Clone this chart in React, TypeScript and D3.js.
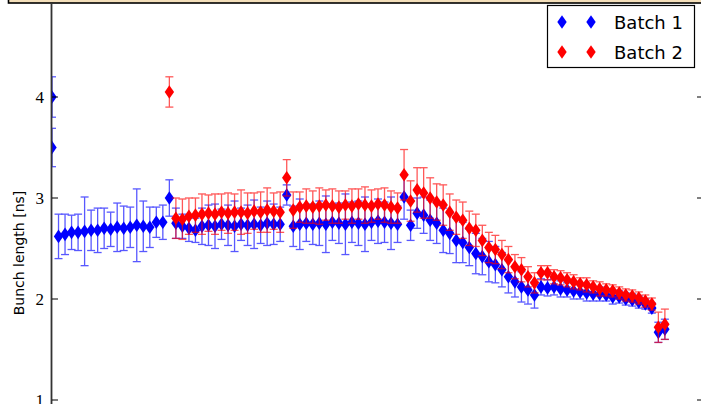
import React, { useRef, useEffect } from 'react'
import { select, scaleLinear, range } from 'd3'

// bunch slot index -> bunch length [ns], with error
const yTicks = [1, 2, 3, 4]
const seriesNames = ['Batch 1', 'Batch 2']

const batch1Slots = [0, ...range(0, 95)]
const batch1Length = [
  4.0, 3.5,
  2.62, 2.64, 2.66, 2.66, 2.67, 2.68, 2.68, 2.70, 2.69, 2.71, 2.70, 2.71, 2.73, 2.72, 2.71, 2.76, 2.76,
  3.00,
  2.75, 2.72, 2.70, 2.68, 2.72, 2.73, 2.72, 2.74, 2.73, 2.72, 2.74, 2.73, 2.74, 2.73, 2.75, 2.74, 2.74,
  3.03,
  2.72, 2.74, 2.75, 2.74, 2.75, 2.74, 2.76, 2.75, 2.74, 2.76, 2.75, 2.74, 2.76, 2.77, 2.76, 2.75, 2.74,
  3.01,
  2.73, 2.85, 2.83, 2.78, 2.75, 2.68, 2.65, 2.58, 2.56, 2.51, 2.45, 2.42, 2.37, 2.34, 2.29, 2.22, 2.17, 2.12, 2.09, 2.04,
  2.12, 2.11, 2.12, 2.10, 2.09, 2.08, 2.07, 2.06, 2.05, 2.05, 2.04, 2.02, 2.02, 2.00, 1.99, 1.97, 1.95, 1.91, 1.67, 1.70
]
const batch1Err = [
  0.2, 0.19,
  0.22, 0.2, 0.17, 0.18, 0.34, 0.2, 0.22, 0.2, 0.17, 0.24, 0.22, 0.2, 0.36, 0.25, 0.2, 0.15, 0.17,
  0.18,
  0.15, 0.12, 0.13, 0.12, 0.18, 0.2, 0.22, 0.15, 0.2, 0.25, 0.16, 0.2, 0.24, 0.18, 0.22, 0.2, 0.17,
  0.1,
  0.2, 0.25, 0.18, 0.2, 0.22, 0.28, 0.18, 0.2, 0.3, 0.2, 0.22, 0.27, 0.18, 0.22, 0.2, 0.26, 0.18,
  0.22,
  0.15, 0.15, 0.18, 0.2, 0.2, 0.22, 0.2, 0.22, 0.2, 0.18, 0.2, 0.18, 0.2, 0.18, 0.17, 0.16, 0.15, 0.15, 0.14, 0.13,
  0.08, 0.08, 0.08, 0.08, 0.07, 0.08, 0.07, 0.08, 0.07, 0.07, 0.06, 0.07, 0.06, 0.06, 0.06, 0.06, 0.05, 0.05, 0.1, 0.1
]

const batch2Slots = range(18, 95)
const batch2Length = [
  4.05,
  2.80, 2.79, 2.82, 2.83, 2.84, 2.85, 2.84, 2.86, 2.85, 2.86, 2.86, 2.85, 2.87, 2.86, 2.88, 2.87, 2.86,
  3.20,
  2.88, 2.91, 2.92, 2.91, 2.92, 2.93, 2.92, 2.91, 2.93, 2.92, 2.94, 2.93, 2.92, 2.94, 2.93, 2.91, 2.90,
  3.23,
  2.97, 3.08, 3.05, 3.00, 2.96, 2.93, 2.86, 2.81, 2.78, 2.70, 2.68, 2.58, 2.51, 2.49, 2.44, 2.39, 2.32, 2.29, 2.22, 2.16,
  2.26, 2.26, 2.22, 2.21, 2.19, 2.17, 2.15, 2.14, 2.12, 2.10, 2.09, 2.08, 2.06, 2.04, 2.03, 2.01, 1.98, 1.95, 1.72, 1.75
]
const batch2Err = [
  0.15,
  0.2, 0.2, 0.18, 0.17, 0.2, 0.18, 0.2, 0.18, 0.2, 0.18, 0.22, 0.2, 0.18, 0.2, 0.22, 0.18, 0.2,
  0.18,
  0.18, 0.15, 0.17, 0.16, 0.18, 0.15, 0.17, 0.16, 0.14, 0.17, 0.15, 0.18, 0.16, 0.15, 0.17, 0.16, 0.15,
  0.25,
  0.2, 0.22, 0.25, 0.2, 0.18, 0.2, 0.18, 0.17, 0.18, 0.17, 0.16, 0.15, 0.15, 0.14, 0.14, 0.13, 0.12, 0.12, 0.1, 0.1,
  0.07, 0.07, 0.07, 0.07, 0.07, 0.07, 0.06, 0.07, 0.06, 0.07, 0.06, 0.06, 0.06, 0.06, 0.06, 0.06, 0.06, 0.06, 0.15, 0.15
]

const colors = ['#0000ff', '#ff0000']
const diamond = 'M0,-6.8L4.7,0L0,6.8L-4.7,0Z'

function App() {
  const ref = useRef(null)

  useEffect(() => {
    document.body.style.margin = '0'
    const svg = select(ref.current)
    svg.selectAll('*').remove()

    const x = scaleLinear().domain([0, 100]).range([52, 704])
    const y = scaleLinear().domain([1, 4]).range([400, 97])

    // title box cut off at the top
    svg.append('rect')
      .attr('x', 8.5).attr('y', -20)
      .attr('width', 720).attr('height', 23)
      .attr('fill', '#f4dfba')
      .attr('stroke', '#000')
      .attr('stroke-width', 1.6)

    svg.append('clipPath').attr('id', 'plot')
      .append('rect')
      .attr('x', 52).attr('y', 4)
      .attr('width', 652).attr('height', 400)

    const plot = svg.append('g').attr('clip-path', 'url(#plot)')

    const series = [
      { slots: batch1Slots, len: batch1Length, err: batch1Err },
      { slots: batch2Slots, len: batch2Length, err: batch2Err }
    ]

    series.forEach((s, k) => {
      const pts = s.slots.map((sl, i) => ({ sl, v: s.len[i], e: s.err[i] }))
      const bars = plot.append('g')
        .attr('stroke', colors[k])
        .attr('stroke-width', 1.3)
        .attr('opacity', 0.65)
        .attr('fill', 'none')
      pts.forEach(p => {
        const cx = x(p.sl)
        bars.append('line')
          .attr('x1', cx).attr('x2', cx)
          .attr('y1', y(p.v - p.e)).attr('y2', y(p.v + p.e))
        bars.append('line')
          .attr('x1', cx - 4).attr('x2', cx + 4)
          .attr('y1', y(p.v - p.e)).attr('y2', y(p.v - p.e))
        bars.append('line')
          .attr('x1', cx - 4).attr('x2', cx + 4)
          .attr('y1', y(p.v + p.e)).attr('y2', y(p.v + p.e))
      })
      plot.append('g').selectAll('path')
        .data(pts)
        .join('path')
        .attr('d', diamond)
        .attr('transform', d => `translate(${x(d.sl)},${y(d.v)})`)
        .attr('fill', colors[k])
    })

    // left axis
    svg.append('line')
      .attr('x1', 51.5).attr('x2', 51.5)
      .attr('y1', 4).attr('y2', 404)
      .attr('stroke', '#333')
      .attr('stroke-width', 1.8)

    yTicks.forEach(t => {
      svg.append('line')
        .attr('x1', 52).attr('x2', 58)
        .attr('y1', y(t)).attr('y2', y(t))
        .attr('stroke', '#000')
      svg.append('line')
        .attr('x1', 697).attr('x2', 704)
        .attr('y1', y(t)).attr('y2', y(t))
        .attr('stroke', '#000')
      svg.append('text')
        .attr('x', 44)
        .attr('y', y(t) + 6)
        .attr('text-anchor', 'end')
        .attr('font-family', '"Liberation Serif", "DejaVu Serif", serif')
        .attr('font-size', 17)
        .text(t)
    })

    svg.append('text')
      .attr('transform', 'translate(19,253) rotate(-90)')
      .attr('text-anchor', 'middle')
      .attr('dominant-baseline', 'central')
      .attr('font-family', '"DejaVu Sans", sans-serif')
      .attr('font-size', 14)
      .text('Bunch length [ns]')

    // legend
    const lg = svg.append('g')
    lg.append('rect')
      .attr('x', 547.5).attr('y', 5.5)
      .attr('width', 147).attr('height', 62)
      .attr('fill', '#fff')
      .attr('stroke', '#000')
      .attr('stroke-width', 1.2)
    seriesNames.forEach((name, k) => {
      const ly = 22 + k * 30
      ;[562, 591].forEach(lx => {
        lg.append('path')
          .attr('d', diamond)
          .attr('transform', `translate(${lx},${ly})`)
          .attr('fill', colors[k])
      })
      lg.append('text')
        .attr('x', 614)
        .attr('y', ly + 7)
        .attr('font-family', '"DejaVu Sans", sans-serif')
        .attr('font-size', 18)
        .text(name)
    })
  }, [])

  return (
    <svg ref={ref} width={701} height={404} style={{ display: 'block' }}></svg>
  )
}

export default App
